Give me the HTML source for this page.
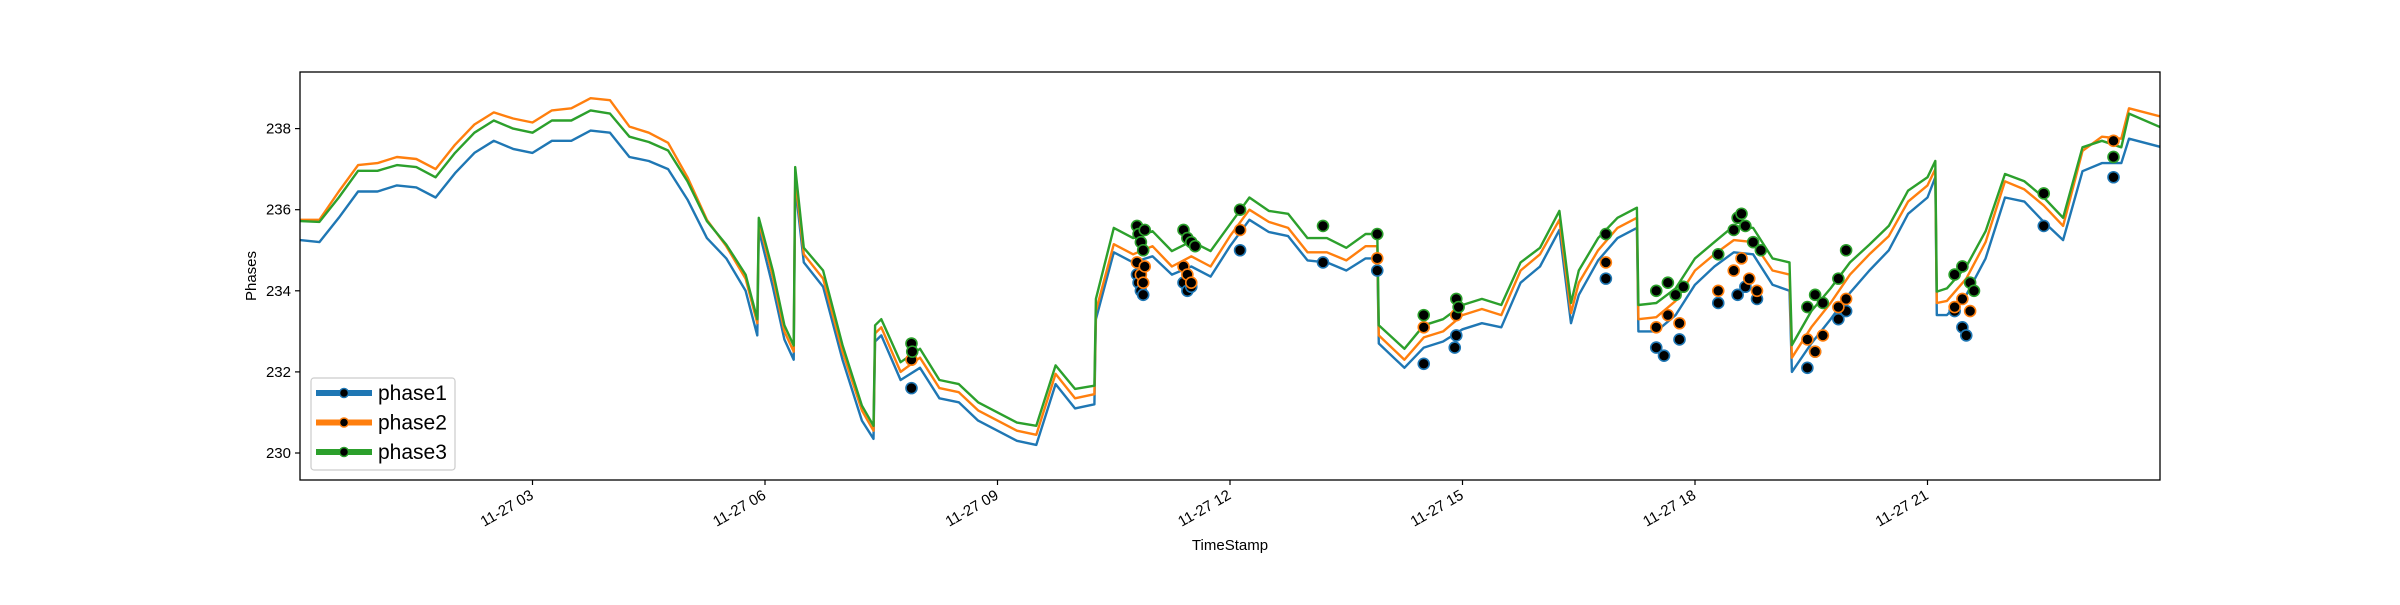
<!DOCTYPE html>
<html><head><meta charset="utf-8"><style>
html,body{margin:0;padding:0;background:#fff;}
svg text{font-family:"Liberation Sans","DejaVu Sans",sans-serif;}
</style></head><body>
<svg id="chart" width="2400" height="600" viewBox="0 0 2400 600" xmlns="http://www.w3.org/2000/svg">
<rect x="0" y="0" width="2400" height="600" fill="#fff"/>
<g id="plot"></g>
</svg>
<script>
const hours = [0,0.25,0.5,0.75,1,1.25,1.5,1.75,2,2.25,2.5,2.75,3,3.25,3.5,3.75,4,4.25,4.5,4.75,5,5.25,5.5,5.75,5.9,5.92,6.1,6.25,6.37,6.39,6.5,6.75,7,7.25,7.4,7.42,7.5,7.75,8,8.25,8.5,8.75,9,9.25,9.5,9.75,10,10.25,10.27,10.5,10.75,11,11.25,11.5,11.75,12,12.25,12.5,12.75,13,13.25,13.5,13.75,13.9,13.92,14.25,14.5,14.75,15,15.25,15.5,15.75,16,16.25,16.4,16.5,16.75,17,17.25,17.27,17.5,17.75,18,18.25,18.5,18.75,19,19.22,19.25,19.5,19.75,20,20.25,20.5,20.75,21,21.1,21.12,21.25,21.5,21.75,22,22.25,22.5,22.75,23,23.25,23.5,23.6,24];
const phase3 = [235.72,235.7,236.3,236.96,236.96,237.1,237.05,236.8,237.4,237.9,238.2,238.0,237.9,238.2,238.2,238.45,238.37,237.8,237.67,237.46,236.7,235.72,235.14,234.4,233.3,235.8,234.5,233.15,232.65,237.05,235.06,234.5,232.66,231.17,230.67,233.15,233.3,232.24,232.57,231.8,231.7,231.25,231.0,230.75,230.67,232.16,231.58,231.66,233.8,235.55,235.3,235.47,234.98,235.22,234.98,235.64,236.3,235.97,235.9,235.3,235.3,235.06,235.4,235.4,233.15,232.57,233.15,233.3,233.65,233.8,233.65,234.7,235.06,235.97,233.7,234.5,235.3,235.8,236.05,233.65,233.7,234.06,234.8,235.2,235.6,235.55,234.8,234.7,232.66,233.5,234.06,234.7,235.14,235.6,236.47,236.8,237.2,233.98,234.06,234.6,235.47,236.88,236.7,236.3,235.8,237.54,237.7,237.54,238.37,238.04];
const phase2 = [235.75,235.75,236.45,237.1,237.15,237.3,237.25,237.0,237.6,238.1,238.4,238.25,238.15,238.45,238.5,238.75,238.7,238.05,237.9,237.65,236.8,235.75,235.1,234.3,233.2,235.7,234.35,233.0,232.5,236.8,234.9,234.3,232.5,231.05,230.55,232.95,233.1,232.0,232.35,231.6,231.5,231.05,230.8,230.55,230.45,231.95,231.35,231.45,233.5,235.15,234.9,235.1,234.6,234.85,234.6,235.35,236.0,235.7,235.55,234.95,234.95,234.75,235.1,235.1,232.9,232.3,232.85,233.0,233.4,233.55,233.4,234.5,234.9,235.75,233.45,234.2,235.0,235.55,235.8,233.3,233.35,233.75,234.5,234.9,235.25,235.2,234.5,234.4,232.35,233.1,233.7,234.4,234.9,235.35,236.2,236.6,237.0,233.7,233.75,234.3,235.2,236.7,236.5,236.1,235.6,237.45,237.8,237.75,238.5,238.3];
const phase1 = [235.25,235.2,235.8,236.45,236.45,236.6,236.55,236.3,236.9,237.4,237.7,237.5,237.4,237.7,237.7,237.95,237.9,237.3,237.2,237.0,236.25,235.3,234.8,234.0,232.9,235.5,234.1,232.8,232.3,236.6,234.7,234.1,232.3,230.8,230.35,232.75,232.9,231.8,232.1,231.35,231.25,230.8,230.55,230.3,230.2,231.7,231.1,231.2,233.3,234.95,234.7,234.85,234.4,234.6,234.35,235.1,235.75,235.45,235.35,234.75,234.7,234.5,234.8,234.8,232.7,232.1,232.6,232.75,233.05,233.2,233.1,234.2,234.6,235.5,233.2,233.9,234.75,235.3,235.55,233.0,233.0,233.4,234.15,234.6,234.95,234.9,234.15,234.0,232.0,232.7,233.3,233.95,234.5,235.0,235.9,236.3,236.8,233.4,233.4,233.9,234.8,236.3,236.2,235.7,235.25,236.95,237.15,237.15,237.75,237.55];

const m3h=[7.89,7.9,10.8,10.82,10.85,10.88,10.9,11.4,11.45,11.5,11.55,12.13,13.2,13.9,14.5,14.92,14.95,16.85,17.5,17.65,17.75,17.85,18.3,18.5,18.55,18.6,18.65,18.75,18.85,19.45,19.55,19.65,19.85,19.95,21.35,21.45,21.55,21.6,22.5,23.4];
const m3v=[232.7,232.5,235.6,235.4,235.2,235.0,235.5,235.5,235.3,235.2,235.1,236.0,235.6,235.4,233.4,233.8,233.6,235.4,234.0,234.2,233.9,234.1,234.9,235.5,235.8,235.9,235.6,235.2,235.0,233.6,233.9,233.7,234.3,235.0,234.4,234.6,234.2,234.0,236.4,237.3];
const m2h=[7.89,10.8,10.85,10.88,10.9,11.4,11.45,11.5,12.13,13.9,14.5,14.92,16.85,17.5,17.65,17.8,18.3,18.5,18.6,18.7,18.8,19.45,19.55,19.65,19.85,19.95,21.35,21.45,21.55,23.4];
const m2v=[232.3,234.7,234.4,234.2,234.6,234.6,234.4,234.2,235.5,234.8,233.1,233.4,234.7,233.1,233.4,233.2,234.0,234.5,234.8,234.3,234.0,232.8,232.5,232.9,233.6,233.8,233.6,233.8,233.5,237.7];
const m1h=[7.89,10.8,10.82,10.85,10.88,11.4,11.45,11.5,12.13,13.2,13.9,14.5,14.9,14.92,16.85,17.5,17.6,17.8,18.3,18.55,18.65,18.8,19.45,19.55,19.85,19.95,21.35,21.45,21.5,22.5,23.4];
const m1v=[231.6,234.4,234.2,234.0,233.9,234.2,234.0,234.1,235.0,234.7,234.5,232.2,232.6,232.9,234.3,232.6,232.4,232.8,233.7,233.9,234.1,233.8,232.1,232.5,233.3,233.5,233.5,233.1,232.9,235.6,236.8];

const yTicks=[230,232,234,236,238];
const xTickHours=[3,6,9,12,15,18,21];
const xTickLabels=["11-27 03","11-27 06","11-27 09","11-27 12","11-27 15","11-27 18","11-27 21"];

const L=300,R=2160,T=72,B=480;
const X=h=>L+(R-L)*h/24;
const Y=v=>128.6+(238-v)*40.55;
const NS='http://www.w3.org/2000/svg';
const plot=document.getElementById('plot');
function mk(tag,attrs,parent){const e=document.createElementNS(NS,tag);for(const k in attrs)e.setAttribute(k,attrs[k]);(parent||plot).appendChild(e);return e;}

const clip=mk('clipPath',{id:'cp'});mk('rect',{x:L,y:T,width:R-L,height:B-T},clip);
const series=[['phase1',phase1,'#1f77b4',m1h,m1v],['phase2',phase2,'#ff7f0e',m2h,m2v],['phase3',phase3,'#2ca02c',m3h,m3v]];
const g=mk('g',{'clip-path':'url(#cp)'});
series.forEach(s=>{
  const d=hours.map((h,i)=>(i?'L':'M')+X(h).toFixed(1)+' '+Y(s[1][i]).toFixed(1)).join(' ');
  const p=mk('path',{d:d,fill:'none',stroke:s[2],'stroke-width':2.4,'stroke-linejoin':'round'},g);
  
  
});
series.forEach(s=>{
  s[3].forEach((h,i)=>{
    const c=mk('circle',{cx:X(h),cy:Y(s[4][i]),r:5.5,fill:'#000',stroke:s[2],'stroke-width':1.6},g);
    
    
  });
});
const frame=mk('rect',{x:L,y:T,width:R-L,height:B-T,fill:'none',stroke:'#000','stroke-width':1.3});


yTicks.forEach(v=>{
  mk('line',{x1:L-5,x2:L,y1:Y(v),y2:Y(v),stroke:'#000','stroke-width':1.2});
  const t=mk('text',{x:L-9,y:Y(v)+5,'text-anchor':'end','font-size':15,fill:'#000'});
  t.textContent=v;
  
  
});
xTickHours.forEach((h,i)=>{
  const x=X(h);
  mk('line',{x1:x,x2:x,y1:B,y2:B+5,stroke:'#000','stroke-width':1.2});
  const t=mk('text',{x:x+2,y:B+18,'text-anchor':'end','font-size':15,fill:'#000',transform:`rotate(-30 ${x+2} ${B+18})`});
  t.textContent=xTickLabels[i];
  
  
});
const xt=mk('text',{x:(L+R)/2,y:550,'text-anchor':'middle','font-size':15});
xt.textContent='TimeStamp';


const yt=mk('text',{x:0,y:0,'text-anchor':'middle','font-size':15,transform:`translate(256 ${(T+B)/2}) rotate(-90)`});
yt.textContent='Phases';



const leg=mk('g',{});


mk('rect',{x:311,y:378,width:144,height:92,rx:3,fill:'#fff','fill-opacity':0.8,stroke:'#ccc','stroke-width':1.2},leg);
series.forEach((s,i)=>{
  const y=393+i*29.5;
  const e=mk('g',{},leg);
  
  
  mk('line',{x1:316,x2:372,y1:y,y2:y,stroke:s[2],'stroke-width':6},e);
  mk('circle',{cx:344,cy:y,r:4.5,fill:'#000',stroke:s[2],'stroke-width':1.5},e);
  const t=mk('text',{x:378,y:y+7,'font-size':21,fill:'#000'},e);
  t.textContent=s[0];
});
</script>
</body></html>
